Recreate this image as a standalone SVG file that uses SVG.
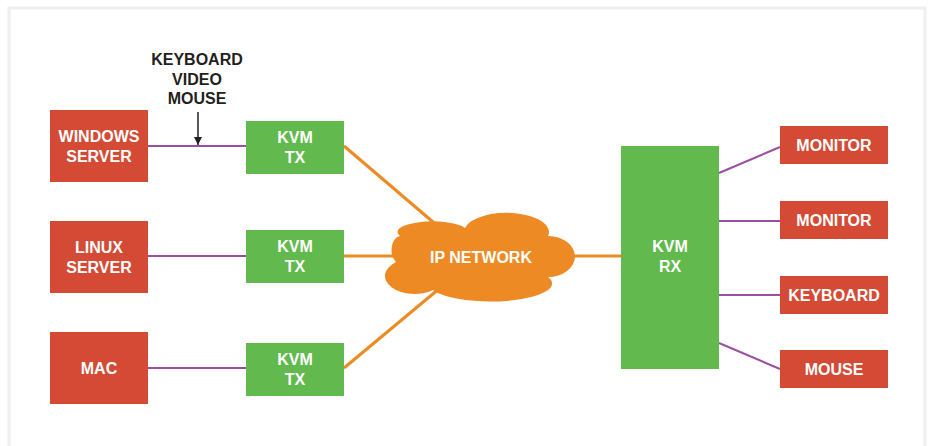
<svg xmlns="http://www.w3.org/2000/svg" width="928" height="446" viewBox="0 0 928 446">
<style>
.red{fill:#d44a35}
.green{fill:#62b94d}
.t{font-family:"Liberation Sans",Arial,sans-serif;font-weight:bold;font-size:16px;fill:#ffffff;text-anchor:middle}
.lbl{font-family:"Liberation Sans",Arial,sans-serif;font-weight:bold;font-size:16px;fill:#231f20;text-anchor:middle}
.p{stroke:#9b4fa3;stroke-width:2;fill:none}
.o{stroke:#ee8a24;stroke-width:3;fill:none}
</style>
<defs>
<marker id="ah" viewBox="0 0 10 10" refX="10" refY="5" markerWidth="8" markerHeight="8" markerUnits="userSpaceOnUse" orient="auto">
<path d="M0,0 L10,5 L0,10 z" fill="#231f20"/>
</marker>
</defs>
<rect x="0" y="0" width="928" height="446" fill="#ffffff"/>
<rect x="9" y="8" width="916" height="460" fill="#ffffff" stroke="#efefef" stroke-width="3"/>
<g id="connectors">
<line class="p" x1="148" y1="146" x2="246" y2="146"/>
<line class="p" x1="148" y1="256" x2="246" y2="256"/>
<line class="p" x1="148" y1="368" x2="246" y2="368"/>
<line class="o" x1="344" y1="146" x2="440" y2="228"/>
<line class="o" x1="344" y1="256" x2="400" y2="256"/>
<line class="o" x1="344" y1="368" x2="440" y2="288"/>
<line class="o" x1="570" y1="256" x2="621" y2="256"/>
<line class="p" x1="719" y1="173" x2="780" y2="147"/>
<line class="p" x1="719" y1="221" x2="780" y2="221"/>
<line class="p" x1="719" y1="295" x2="780" y2="295"/>
<line class="p" x1="719" y1="343" x2="780" y2="369"/>
<line x1="198" y1="112" x2="198" y2="145" stroke="#231f20" stroke-width="1.5" marker-end="url(#ah)"/>
</g>
<g id="kvm-label">
<text class="lbl" x="197" y="65">KEYBOARD</text>
<text class="lbl" x="197" y="85">VIDEO</text>
<text class="lbl" x="197" y="104">MOUSE</text>
</g>
<g id="windows-server">
<rect class="red" x="50" y="110" width="98" height="72"/>
<text class="t" x="99" y="142">WINDOWS</text>
<text class="t" x="99" y="162">SERVER</text>
</g>
<g id="linux-server">
<rect class="red" x="50" y="221" width="98" height="72"/>
<text class="t" x="99" y="253">LINUX</text>
<text class="t" x="99" y="273">SERVER</text>
</g>
<g id="mac">
<rect class="red" x="50" y="332" width="98" height="72"/>
<text class="t" x="99" y="374">MAC</text>
</g>
<g id="kvm-tx-1">
<rect class="green" x="246" y="121" width="98" height="53"/>
<text class="t" x="295" y="143">KVM</text>
<text class="t" x="295" y="163">TX</text>
</g>
<g id="kvm-tx-2">
<rect class="green" x="246" y="230" width="98" height="53"/>
<text class="t" x="295" y="252">KVM</text>
<text class="t" x="295" y="272">TX</text>
</g>
<g id="kvm-tx-3">
<rect class="green" x="246" y="343" width="98" height="53"/>
<text class="t" x="295" y="365">KVM</text>
<text class="t" x="295" y="385">TX</text>
</g>
<g id="ip-network">
<path fill="#ee8a24" d="M 396 262 A 9 14 0 0 1 400 236 A 33 10 0 0 1 465 228 A 42 19 0 0 1 548 236 A 27 20.5 0 0 1 548 277 A 58 17 0 0 1 433 290 A 23 14 0 0 1 396 262 Z"/>
<text class="t" x="481" y="263">IP NETWORK</text>
</g>
<g id="kvm-rx">
<rect class="green" x="621" y="146" width="98" height="223"/>
<text class="t" x="670" y="252">KVM</text>
<text class="t" x="670" y="272">RX</text>
</g>
<g id="monitor-1">
<rect class="red" x="780" y="126" width="108" height="38"/>
<text class="t" x="834" y="151">MONITOR</text>
</g>
<g id="monitor-2">
<rect class="red" x="780" y="201" width="108" height="38"/>
<text class="t" x="834" y="226">MONITOR</text>
</g>
<g id="keyboard">
<rect class="red" x="780" y="276" width="108" height="38"/>
<text class="t" x="834" y="301">KEYBOARD</text>
</g>
<g id="mouse">
<rect class="red" x="780" y="350" width="108" height="38"/>
<text class="t" x="834" y="375">MOUSE</text>
</g>
</svg>
